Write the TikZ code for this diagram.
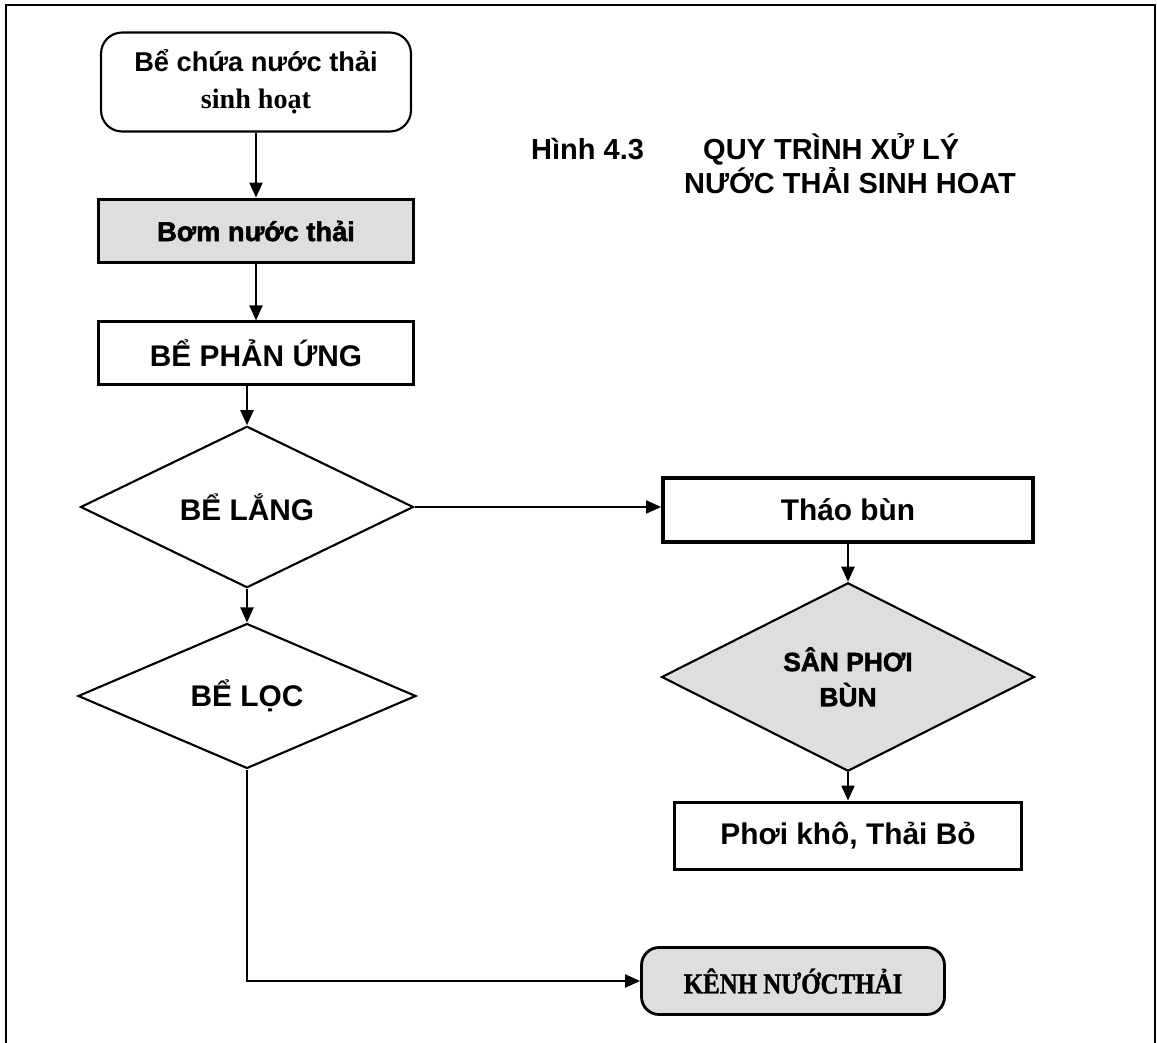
\documentclass[tikz,border=0pt]{standalone}
\usepackage{fontspec}
\setmainfont{Liberation Sans}
\newfontfamily\serifvn{Liberation Serif}
\newfontfamily\heavyvn[FakeBold=2]{Liberation Sans}
\newfontfamily\kenhvn[FakeStretch=0.86,FakeBold=1.2]{Liberation Serif}
\usetikzlibrary{shapes,arrows.meta}
\tikzset{
stepbox/.style={
	draw, line width=1.2pt, minimum width=6.3cm, minimum height=1.26cm,
	inner sep=0pt, font=\fontsize{17}{20}\selectfont\bfseries},
heavybox/.style={stepbox, line width=2.2pt},
shadebox/.style={heavybox, fill=black!13},
tankdia/.style={
	draw, diamond, line width=1.2pt, inner sep=0pt,
	font=\fontsize{17}{20}\selectfont\bfseries},
flow/.style={line width=1.1pt, -{Triangle[length=3mm,width=2.6mm]}}
}

\begin{document}
\begin{tikzpicture}[x=0.02cm, y=-0.02cm]
	\useasboundingbox (0,0) rectangle (1157,1043);
	\draw[line width=1.1pt] (6,1043) -- (6,5) -- (1155,5) -- (1155,1043);

	\node[stepbox, rounded corners=12pt, minimum width=6.2cm, minimum height=1.98cm,
		align=center, font=\bfseries] (src) at (256,82)
		{{\fontsize{15.5}{19}\selectfont Bể chứa nước thải}\\[9pt]
		 {\serifvn\fontsize{16}{19}\selectfont\bfseries sinh hoạt}};
	\node[shadebox, font=\heavyvn\bfseries\fontsize{15.5}{19}\selectfont] (pump) at (256,231) {Bơm nước thải};
	\node[stepbox] (react) at (256,353) {BỂ PHẢN ỨNG};
	\node[tankdia, minimum width=6.66cm, minimum height=2.4cm] (settle) at (247,507) {BỂ LẮNG};
	\node[tankdia, minimum width=6.76cm, minimum height=2.64cm] (filt) at (247,696) {BỂ LỌC};

	\node[heavybox, minimum width=7.4cm, minimum height=1.28cm] (sludge) at (848,510) {Tháo bùn};
	\node[tankdia, fill=black!13, minimum width=7.46cm, minimum height=2.94cm,
		align=center, font=\heavyvn\bfseries\fontsize{15}{20}\selectfont] (dry) at (848,677) {SÂN PHƠI\\BÙN};
	\node[heavybox, minimum width=6.94cm, minimum height=1.34cm] (final) at (848,836) {Phơi khô, Thải Bỏ};
	\node[shadebox, line width=1.6pt, rounded corners=10pt, minimum width=6.06cm, minimum height=1.34cm,
		font=\kenhvn\bfseries\fontsize{16.5}{19}\selectfont] (canal) at (793,981) {KÊNH NƯỚCTHẢI};

	\node[anchor=base west, font=\fontsize{16.5}{19}\selectfont\bfseries] (fig) at (525,160) {Hình 4.3};
	\node[anchor=base west, font=\fontsize{16.5}{19}\selectfont\bfseries] (title1) at (697,160) {QUY TRÌNH XỬ LÝ};
	\node[anchor=base west, font=\fontsize{16.5}{19}\selectfont\bfseries] (title2) at (678,194) {NƯỚC THẢI SINH HOAT};

	\draw[flow] (src) -- (pump);
	\draw[flow] (pump) -- (react);
	\draw[flow] (react.south -| settle.north) -- (settle.north);
	\draw[flow] (settle) -- (filt);
	\draw[flow] (settle.east) -- (settle.east -| sludge.west);
	\draw[flow] (sludge) -- (dry);
	\draw[flow] (dry) -- (final);
	\draw[flow] (filt.south) |- (canal.west);
\end{tikzpicture}
\end{document}
